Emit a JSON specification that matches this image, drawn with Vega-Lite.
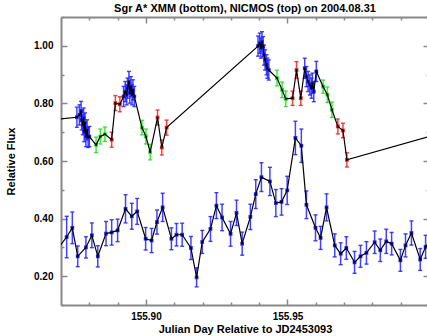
{
 "$schema": "https://vega.github.io/schema/vega-lite/v6.json",
 "autosize": "none",
 "width": 368,
 "height": 288,
 "padding": {"left": 61, "top": 17, "right": 0, "bottom": 31},
 "background": "white",
 "title": {"text": "Sgr A* XMM (bottom), NICMOS (top) on 2004.08.31", "font": "Liberation Sans", "fontSize": 11, "fontWeight": "bold", "color": "#000", "offset": 2, "anchor": "middle"},
 "config": {
  "view": {"stroke": null},
  "axis": {"grid": false, "labelFont": "Liberation Sans", "labelFontSize": 10, "labelFontWeight": "bold", "labelColor": "#000", "titleFont": "Liberation Sans", "titleFontSize": 11, "titleFontWeight": "bold", "titleColor": "#000", "domainColor": "#888", "domainWidth": 2, "tickColor": "#888", "tickWidth": 1.5, "labelFlush": false, "labelOverlap": false}
 },
 "data": {"values": [
  {"s":"X","t":155.8680,"f":0.284,"e":0.040,"c":"blue"},
  {"s":"X","t":155.8720,"f":0.336,"e":0.072,"c":"blue"},
  {"s":"X","t":155.8740,"f":0.368,"e":0.055,"c":"blue"},
  {"s":"X","t":155.8759,"f":0.269,"e":0.036,"c":"blue"},
  {"s":"X","t":155.8788,"f":0.300,"e":0.037,"c":"blue"},
  {"s":"X","t":155.8809,"f":0.342,"e":0.043,"c":"blue"},
  {"s":"X","t":155.8830,"f":0.269,"e":0.037,"c":"blue"},
  {"s":"X","t":155.8859,"f":0.348,"e":0.042,"c":"blue"},
  {"s":"X","t":155.8879,"f":0.352,"e":0.044,"c":"blue"},
  {"s":"X","t":155.8900,"f":0.359,"e":0.039,"c":"blue"},
  {"s":"X","t":155.8928,"f":0.434,"e":0.049,"c":"blue"},
  {"s":"X","t":155.8950,"f":0.408,"e":0.045,"c":"blue"},
  {"s":"X","t":155.8969,"f":0.425,"e":0.045,"c":"blue"},
  {"s":"X","t":155.8999,"f":0.330,"e":0.039,"c":"blue"},
  {"s":"X","t":155.9020,"f":0.324,"e":0.042,"c":"blue"},
  {"s":"X","t":155.9039,"f":0.388,"e":0.042,"c":"blue"},
  {"s":"X","t":155.9059,"f":0.439,"e":0.049,"c":"blue"},
  {"s":"X","t":155.9090,"f":0.330,"e":0.038,"c":"blue"},
  {"s":"X","t":155.9108,"f":0.344,"e":0.039,"c":"blue"},
  {"s":"X","t":155.9128,"f":0.344,"e":0.040,"c":"blue"},
  {"s":"X","t":155.9159,"f":0.298,"e":0.040,"c":"blue"},
  {"s":"X","t":155.9179,"f":0.196,"e":0.033,"c":"blue"},
  {"s":"X","t":155.9199,"f":0.319,"e":0.040,"c":"blue"},
  {"s":"X","t":155.9228,"f":0.364,"e":0.043,"c":"blue"},
  {"s":"X","t":155.9249,"f":0.445,"e":0.045,"c":"blue"},
  {"s":"X","t":155.9269,"f":0.404,"e":0.046,"c":"blue"},
  {"s":"X","t":155.9299,"f":0.347,"e":0.043,"c":"blue"},
  {"s":"X","t":155.9320,"f":0.420,"e":0.044,"c":"blue"},
  {"s":"X","t":155.9340,"f":0.313,"e":0.040,"c":"blue"},
  {"s":"X","t":155.9369,"f":0.406,"e":0.044,"c":"blue"},
  {"s":"X","t":155.9388,"f":0.485,"e":0.050,"c":"blue"},
  {"s":"X","t":155.9408,"f":0.544,"e":0.050,"c":"blue"},
  {"s":"X","t":155.9438,"f":0.529,"e":0.049,"c":"blue"},
  {"s":"X","t":155.9459,"f":0.454,"e":0.047,"c":"blue"},
  {"s":"X","t":155.9479,"f":0.458,"e":0.046,"c":"blue"},
  {"s":"X","t":155.9499,"f":0.498,"e":0.049,"c":"blue"},
  {"s":"X","t":155.9528,"f":0.680,"e":0.058,"c":"blue"},
  {"s":"X","t":155.9549,"f":0.653,"e":0.058,"c":"blue"},
  {"s":"X","t":155.9567,"f":0.448,"e":0.048,"c":"blue"},
  {"s":"X","t":155.9599,"f":0.368,"e":0.045,"c":"blue"},
  {"s":"X","t":155.9617,"f":0.333,"e":0.040,"c":"blue"},
  {"s":"X","t":155.9638,"f":0.439,"e":0.047,"c":"blue"},
  {"s":"X","t":155.9667,"f":0.307,"e":0.040,"c":"blue"},
  {"s":"X","t":155.9688,"f":0.278,"e":0.038,"c":"blue"},
  {"s":"X","t":155.9708,"f":0.298,"e":0.039,"c":"blue"},
  {"s":"X","t":155.9737,"f":0.248,"e":0.038,"c":"blue"},
  {"s":"X","t":155.9758,"f":0.269,"e":0.038,"c":"blue"},
  {"s":"X","t":155.9779,"f":0.281,"e":0.039,"c":"blue"},
  {"s":"X","t":155.9808,"f":0.318,"e":0.039,"c":"blue"},
  {"s":"X","t":155.9828,"f":0.290,"e":0.039,"c":"blue"},
  {"s":"X","t":155.9849,"f":0.321,"e":0.042,"c":"blue"},
  {"s":"X","t":155.9868,"f":0.313,"e":0.039,"c":"blue"},
  {"s":"X","t":155.9899,"f":0.255,"e":0.038,"c":"blue"},
  {"s":"X","t":155.9917,"f":0.307,"e":0.040,"c":"blue"},
  {"s":"X","t":155.9938,"f":0.350,"e":0.042,"c":"blue"},
  {"s":"X","t":155.9969,"f":0.258,"e":0.038,"c":"blue"},
  {"s":"X","t":155.9988,"f":0.302,"e":0.040,"c":"blue"},
  {"s":"X","t":156.0009,"f":0.330,"e":0.040,"c":"blue"},
  {"s":"N","t":155.8600,"f":0.736,"e":0.030,"c":"blue"},
  {"s":"N","t":155.8756,"f":0.752,"e":0.035,"c":"blue"},
  {"s":"N","t":155.8765,"f":0.760,"e":0.035,"c":"blue"},
  {"s":"N","t":155.8771,"f":0.772,"e":0.035,"c":"blue"},
  {"s":"N","t":155.8773,"f":0.743,"e":0.035,"c":"blue"},
  {"s":"N","t":155.8777,"f":0.726,"e":0.035,"c":"blue"},
  {"s":"N","t":155.8780,"f":0.749,"e":0.035,"c":"blue"},
  {"s":"N","t":155.8782,"f":0.702,"e":0.035,"c":"blue"},
  {"s":"N","t":155.8785,"f":0.732,"e":0.035,"c":"blue"},
  {"s":"N","t":155.8788,"f":0.685,"e":0.035,"c":"blue"},
  {"s":"N","t":155.8792,"f":0.708,"e":0.035,"c":"blue"},
  {"s":"N","t":155.8796,"f":0.682,"e":0.035,"c":"blue"},
  {"s":"N","t":155.8800,"f":0.685,"e":0.035,"c":"blue"},
  {"s":"N","t":155.8824,"f":0.656,"e":0.027,"c":"green"},
  {"s":"N","t":155.8839,"f":0.685,"e":0.026,"c":"green"},
  {"s":"N","t":155.8855,"f":0.693,"e":0.025,"c":"green"},
  {"s":"N","t":155.8879,"f":0.674,"e":0.026,"c":"red"},
  {"s":"N","t":155.8892,"f":0.801,"e":0.026,"c":"red"},
  {"s":"N","t":155.8908,"f":0.797,"e":0.026,"c":"red"},
  {"s":"N","t":155.8921,"f":0.824,"e":0.035,"c":"blue"},
  {"s":"N","t":155.8927,"f":0.841,"e":0.035,"c":"blue"},
  {"s":"N","t":155.8932,"f":0.830,"e":0.035,"c":"blue"},
  {"s":"N","t":155.8935,"f":0.853,"e":0.035,"c":"blue"},
  {"s":"N","t":155.8940,"f":0.876,"e":0.035,"c":"blue"},
  {"s":"N","t":155.8943,"f":0.836,"e":0.035,"c":"blue"},
  {"s":"N","t":155.8947,"f":0.858,"e":0.035,"c":"blue"},
  {"s":"N","t":155.8951,"f":0.830,"e":0.035,"c":"blue"},
  {"s":"N","t":155.8954,"f":0.847,"e":0.035,"c":"blue"},
  {"s":"N","t":155.8959,"f":0.824,"e":0.035,"c":"blue"},
  {"s":"N","t":155.8986,"f":0.716,"e":0.025,"c":"green"},
  {"s":"N","t":155.9000,"f":0.685,"e":0.026,"c":"green"},
  {"s":"N","t":155.9015,"f":0.631,"e":0.027,"c":"green"},
  {"s":"N","t":155.9041,"f":0.751,"e":0.026,"c":"red"},
  {"s":"N","t":155.9056,"f":0.647,"e":0.026,"c":"red"},
  {"s":"N","t":155.9073,"f":0.716,"e":0.026,"c":"red"},
  {"s":"N","t":155.9396,"f":0.999,"e":0.035,"c":"blue"},
  {"s":"N","t":155.9402,"f":1.009,"e":0.035,"c":"blue"},
  {"s":"N","t":155.9406,"f":0.992,"e":0.035,"c":"blue"},
  {"s":"N","t":155.9410,"f":1.014,"e":0.035,"c":"blue"},
  {"s":"N","t":155.9414,"f":0.997,"e":0.035,"c":"blue"},
  {"s":"N","t":155.9417,"f":0.968,"e":0.035,"c":"blue"},
  {"s":"N","t":155.9421,"f":0.951,"e":0.035,"c":"blue"},
  {"s":"N","t":155.9426,"f":0.934,"e":0.035,"c":"blue"},
  {"s":"N","t":155.9429,"f":0.922,"e":0.035,"c":"blue"},
  {"s":"N","t":155.9434,"f":0.916,"e":0.035,"c":"blue"},
  {"s":"N","t":155.9463,"f":0.888,"e":0.027,"c":"green"},
  {"s":"N","t":155.9481,"f":0.847,"e":0.027,"c":"green"},
  {"s":"N","t":155.9494,"f":0.816,"e":0.027,"c":"green"},
  {"s":"N","t":155.9518,"f":0.818,"e":0.025,"c":"red"},
  {"s":"N","t":155.9532,"f":0.916,"e":0.029,"c":"red"},
  {"s":"N","t":155.9547,"f":0.818,"e":0.025,"c":"red"},
  {"s":"N","t":155.9561,"f":0.922,"e":0.035,"c":"blue"},
  {"s":"N","t":155.9567,"f":0.893,"e":0.035,"c":"blue"},
  {"s":"N","t":155.9573,"f":0.876,"e":0.035,"c":"blue"},
  {"s":"N","t":155.9579,"f":0.864,"e":0.035,"c":"blue"},
  {"s":"N","t":155.9585,"f":0.853,"e":0.035,"c":"blue"},
  {"s":"N","t":155.9588,"f":0.870,"e":0.035,"c":"blue"},
  {"s":"N","t":155.9593,"f":0.841,"e":0.035,"c":"blue"},
  {"s":"N","t":155.9602,"f":0.911,"e":0.035,"c":"blue"},
  {"s":"N","t":155.9626,"f":0.858,"e":0.023,"c":"green"},
  {"s":"N","t":155.9641,"f":0.830,"e":0.027,"c":"green"},
  {"s":"N","t":155.9657,"f":0.778,"e":0.027,"c":"green"},
  {"s":"N","t":155.9678,"f":0.720,"e":0.026,"c":"red"},
  {"s":"N","t":155.9696,"f":0.706,"e":0.025,"c":"red"},
  {"s":"N","t":155.9710,"f":0.604,"e":0.025,"c":"red"},
  {"s":"N","t":156.0050,"f":0.699,"e":0.030,"c":"red"}
 ]},
 "resolve": {"axis": {"x": "independent", "y": "independent"}},
 "layer": [
  {
   "mark": {"type": "errorbar", "ticks": {"size": 4, "thickness": 1.4}, "thickness": 1.5, "clip": true, "opacity": 0.85},
   "encoding": {
    "x": {"field": "t", "type": "quantitative", "scale": {"domain": [155.87, 156.0], "nice": false, "zero": false}, "axis": null},
    "y": {"field": "f", "type": "quantitative", "scale": {"domain": [0.1, 1.1], "nice": false, "zero": false}, "axis": null},
    "yError": {"field": "e"},
    "color": {"field": "c", "type": "nominal", "scale": {"domain": ["blue", "green", "red"], "range": ["#2222ff", "#22e022", "#ee2222"]}, "legend": null}
   }
  },
  {
   "mark": {"type": "square", "size": 14, "opacity": 1, "clip": true},
   "encoding": {
    "x": {"field": "t", "type": "quantitative", "scale": {"domain": [155.87, 156.0], "nice": false, "zero": false},
      "axis": {"orient": "bottom", "values": [155.9, 155.95], "format": ".2f", "tickSize": -6, "labelPadding": 12, "title": "Julian Day Relative to JD2453093", "titlePadding": 2}},
    "y": {"field": "f", "type": "quantitative", "scale": {"domain": [0.1, 1.1], "nice": false, "zero": false},
      "axis": {"orient": "left", "values": [0.2, 0.4, 0.6, 0.8, 1.0], "format": ".2f", "tickSize": -6, "labelPadding": 14, "title": "Relative Flux", "titlePadding": 17}},
    "color": {"field": "c", "type": "nominal", "scale": {"domain": ["blue", "green", "red"], "range": ["#2222ff", "#22e022", "#ee2222"]}, "legend": null}
   }
  },
  {
   "mark": {"type": "line", "color": "#000", "strokeWidth": 1.2, "clip": true},
   "encoding": {
    "x": {"field": "t", "type": "quantitative", "scale": {"domain": [155.87, 156.0], "nice": false, "zero": false},
      "axis": {"orient": "bottom", "values": [155.88, 155.89, 155.91, 155.92, 155.93, 155.94, 155.96, 155.97, 155.98, 155.99], "tickSize": -3, "labels": false, "domain": false, "title": null}},
    "y": {"field": "f", "type": "quantitative", "scale": {"domain": [0.1, 1.1], "nice": false, "zero": false},
      "axis": {"orient": "left", "values": [0.1, 0.3, 0.5, 0.7, 0.9, 1.1], "tickSize": -3, "labels": false, "domain": false, "title": null}},
    "detail": {"field": "s"}
   }
  },
  {
   "mark": {"type": "square", "size": 3, "color": "#000", "opacity": 1, "clip": true},
   "encoding": {
    "x": {"field": "t", "type": "quantitative", "scale": {"domain": [155.87, 156.0], "nice": false, "zero": false},
      "axis": {"orient": "top", "values": [155.9, 155.95], "tickSize": -6, "labels": false, "title": null}},
    "y": {"field": "f", "type": "quantitative", "scale": {"domain": [0.1, 1.1], "nice": false, "zero": false},
      "axis": {"orient": "right", "values": [0.2, 0.4, 0.6, 0.8, 1.0], "tickSize": -6, "labels": false, "title": null}}
   }
  },
  {
   "mark": {"type": "point", "opacity": 0, "clip": true},
   "encoding": {
    "x": {"field": "t", "type": "quantitative", "scale": {"domain": [155.87, 156.0], "nice": false, "zero": false},
      "axis": {"orient": "top", "values": [155.88, 155.89, 155.91, 155.92, 155.93, 155.94, 155.96, 155.97, 155.98, 155.99], "tickSize": -3, "labels": false, "domain": false, "title": null}},
    "y": {"field": "f", "type": "quantitative", "scale": {"domain": [0.1, 1.1], "nice": false, "zero": false},
      "axis": {"orient": "right", "values": [0.1, 0.3, 0.5, 0.7, 0.9, 1.1], "tickSize": -3, "labels": false, "domain": false, "title": null}}
   }
  }
 ]
}
